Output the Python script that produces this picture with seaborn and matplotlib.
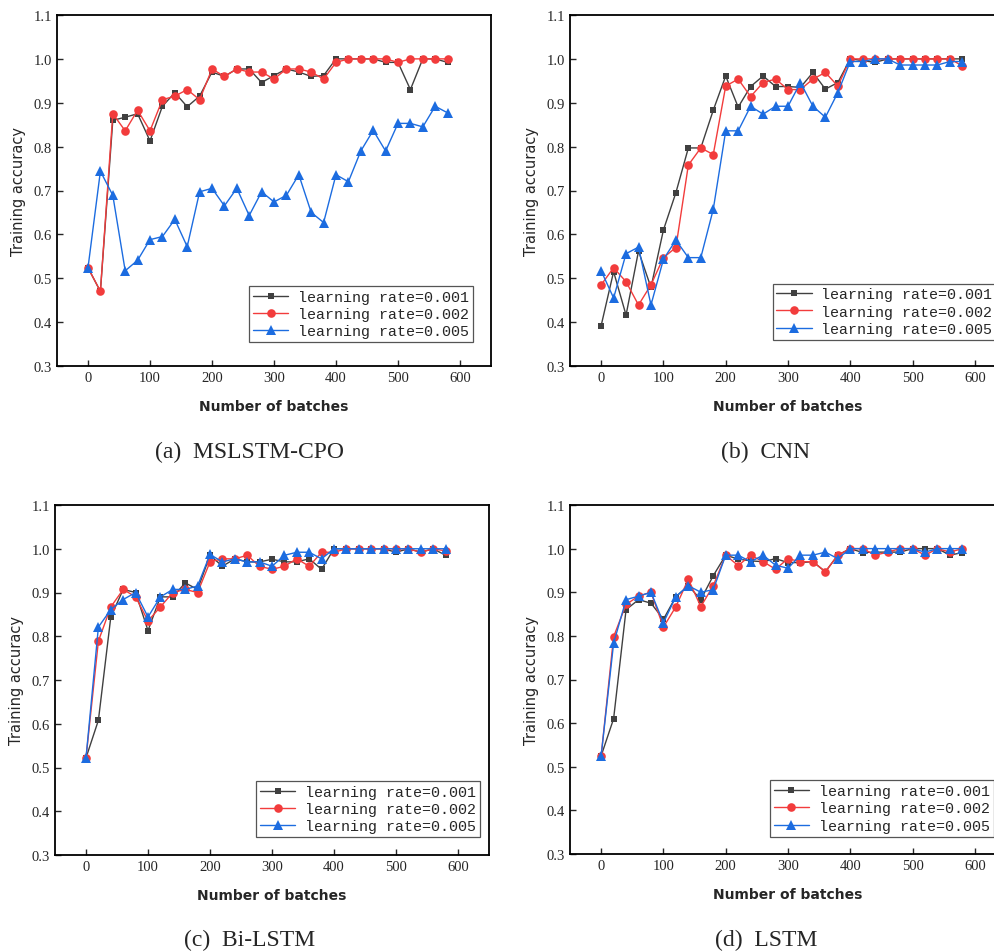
import matplotlib.pyplot as plt
import seaborn as sns

sns.set_style('ticks')
plt.rcParams['font.family'] = ['Liberation Serif', 'DejaVu Serif']

batches = [0, 20, 40, 60, 80, 100, 120, 140, 160, 180, 200, 220, 240, 260, 280,
           300, 320, 340, 360, 380, 400, 420, 440, 460, 480, 500, 520, 540, 560, 580]
lr_labels = ['learning rate=0.001', 'learning rate=0.002', 'learning rate=0.005']
captions = ['(a)  MSLSTM-CPO', '(b)  CNN', '(c)  Bi-LSTM', '(d)  LSTM']
x_ticks = [0, 100, 200, 300, 400, 500, 600]
y_ticks = [0.3, 0.4, 0.5, 0.6, 0.7, 0.8, 0.9, 1.0, 1.1]

# (a) MSLSTM-CPO
mslstm_001 = [0.524, 0.47, 0.86, 0.867, 0.875, 0.813, 0.892, 0.923, 0.891, 0.915, 0.970, 0.960, 0.977, 0.977, 0.946,
              0.962, 0.977, 0.970, 0.960, 0.962, 1.0, 1.0, 1.0, 1.0, 0.992, 0.992, 0.930, 1.0, 1.0, 0.992]
mslstm_002 = [0.524, 0.47, 0.875, 0.836, 0.883, 0.836, 0.907, 0.915, 0.930, 0.907, 0.977, 0.960, 0.977, 0.970, 0.970,
              0.954, 0.977, 0.977, 0.970, 0.954, 0.992, 1.0, 1.0, 1.0, 1.0, 0.992, 1.0, 1.0, 1.0, 1.0]
mslstm_005 = [0.524, 0.744, 0.689, 0.517, 0.541, 0.588, 0.595, 0.634, 0.572, 0.697, 0.705, 0.665, 0.705, 0.643, 0.697,
              0.674, 0.689, 0.736, 0.650, 0.627, 0.736, 0.720, 0.790, 0.837, 0.790, 0.853, 0.853, 0.845, 0.892, 0.877]

# (b) CNN
cnn_001 = [0.392, 0.515, 0.416, 0.562, 0.479, 0.610, 0.695, 0.797, 0.797, 0.883, 0.961, 0.890, 0.937, 0.961, 0.937,
           0.937, 0.935, 0.969, 0.931, 0.946, 1.0, 0.996, 0.992, 1.0, 1.0, 1.0, 1.0, 1.0, 1.0, 1.0]
cnn_002 = [0.485, 0.524, 0.492, 0.439, 0.485, 0.547, 0.570, 0.758, 0.797, 0.782, 0.938, 0.954, 0.914, 0.946, 0.954,
           0.930, 0.930, 0.954, 0.969, 0.938, 1.0, 1.0, 1.0, 1.0, 1.0, 1.0, 1.0, 1.0, 1.0, 0.984]
cnn_005 = [0.517, 0.455, 0.556, 0.571, 0.439, 0.543, 0.587, 0.547, 0.547, 0.657, 0.836, 0.836, 0.892, 0.874, 0.892,
           0.892, 0.946, 0.892, 0.867, 0.923, 0.994, 0.994, 1.0, 1.0, 0.986, 0.986, 0.986, 0.986, 0.994, 0.994]

# (c) Bi-LSTM
bilstm_001 = [0.522, 0.608, 0.844, 0.907, 0.900, 0.813, 0.890, 0.890, 0.922, 0.907, 0.985, 0.960, 0.977, 0.970, 0.970,
              0.976, 0.970, 0.970, 0.977, 0.953, 1.0, 1.0, 1.0, 1.0, 1.0, 0.992, 1.0, 0.992, 1.0, 0.985]
bilstm_002 = [0.522, 0.789, 0.867, 0.907, 0.890, 0.835, 0.867, 0.900, 0.907, 0.900, 0.970, 0.977, 0.977, 0.985, 0.960,
              0.953, 0.960, 0.977, 0.960, 0.992, 0.992, 1.0, 1.0, 1.0, 1.0, 1.0, 1.0, 0.992, 1.0, 0.995]
bilstm_005 = [0.522, 0.821, 0.861, 0.884, 0.900, 0.844, 0.890, 0.907, 0.907, 0.915, 0.987, 0.970, 0.977, 0.970, 0.970,
              0.960, 0.985, 0.992, 0.992, 0.977, 1.0, 1.0, 1.0, 1.0, 1.0, 1.0, 1.0, 1.0, 1.0, 1.0]

# (d) LSTM
lstm_001 = [0.525, 0.610, 0.860, 0.883, 0.875, 0.838, 0.890, 0.915, 0.883, 0.938, 0.985, 0.976, 0.972, 0.970, 0.977,
            0.968, 0.968, 0.970, 0.947, 0.985, 1.0, 0.991, 0.992, 0.992, 0.992, 1.0, 1.0, 1.0, 0.985, 0.991]
lstm_002 = [0.525, 0.798, 0.872, 0.891, 0.900, 0.820, 0.867, 0.930, 0.867, 0.915, 0.985, 0.961, 0.985, 0.970, 0.953,
            0.977, 0.970, 0.970, 0.947, 0.985, 1.0, 1.0, 0.985, 0.992, 1.0, 1.0, 0.985, 1.0, 0.992, 1.0]
lstm_005 = [0.525, 0.783, 0.883, 0.891, 0.900, 0.830, 0.890, 0.915, 0.900, 0.906, 0.985, 0.985, 0.970, 0.985, 0.962,
            0.955, 0.985, 0.985, 0.992, 0.977, 1.0, 1.0, 1.0, 1.0, 1.0, 1.0, 0.992, 1.0, 1.0, 1.0]

panels = [
    (mslstm_001, mslstm_002, mslstm_005),
    (cnn_001, cnn_002, cnn_005),
    (bilstm_001, bilstm_002, bilstm_005),
    (lstm_001, lstm_002, lstm_005),
]

colors = ['#404040', '#f23c3c', '#1c6ce0']
markers = ['s', 'o', '^']
msizes = [5, 6.2, 6.8]

# axes boxes in pixels: left, top, right, bottom (figure is 995 x 953)
W, H = 995, 953
boxes = [(57, 16, 491, 367), (570, 16, 1006, 367), (55, 506, 489, 856), (570, 506, 1006, 855)]
leg_anchor = [(0.9585, 0.068, 'lower right'), (0.465, 0.075, 'lower left'),
              (0.979, 0.051, 'lower right'), (0.459, 0.05, 'lower left')]
cap_pos = [(250, 452), (766, 452), (250, 940), (766, 940)]

fig = plt.figure(figsize=(W / 100, H / 100), dpi=100)

for i, series in enumerate(panels):
    l, t, r, b = boxes[i]
    ax = fig.add_axes([l / W, 1 - b / H, (r - l) / W, (b - t) / H])
    for j, vals in enumerate(series):
        sns.lineplot(x=batches, y=vals, ax=ax, color=colors[j], marker=markers[j],
                     markersize=msizes[j], markeredgewidth=0, linewidth=1.0,
                     label=lr_labels[j])
    ax.set_xlim(-50, 650)
    ax.set_ylim(0.3, 1.1)
    ax.set_xticks(x_ticks)
    ax.set_yticks(y_ticks)
    ax.set_yticklabels([f'{v:.1f}' for v in y_ticks])
    ax.tick_params(direction='in', length=4, width=1, labelsize=10.5, top=False, right=False)
    for s in ax.spines.values():
        s.set_visible(True)
        s.set_linewidth(1.3)
        s.set_color('black')
    ax.set_xlabel('Number of batches', family='DejaVu Sans', fontweight='bold', fontsize=10)
    ax.set_ylabel('Training accuracy', family='DejaVu Sans', fontsize=10.5)
    ax.xaxis.set_label_coords(0.5, -0.095)
    ax.yaxis.set_label_coords(-0.072, 0.5)
    ax.grid(False)

    lx, ly, lloc = leg_anchor[i]
    leg = ax.legend(loc=lloc, bbox_to_anchor=(lx, ly), borderaxespad=0, fancybox=False,
                    framealpha=1, edgecolor='#555555', handlelength=2.35, handletextpad=0.65,
                    labelspacing=0.22, borderpad=0.25,
                    prop={'family': 'Liberation Mono', 'size': 10.8})
    leg.get_frame().set_linewidth(0.9)

    cx, cy = cap_pos[i]
    fig.text(cx / W, 1 - cy / H, captions[i], ha='center', va='center', fontsize=17,
             family='Liberation Serif')

fig.savefig('out.png', dpi=100)
